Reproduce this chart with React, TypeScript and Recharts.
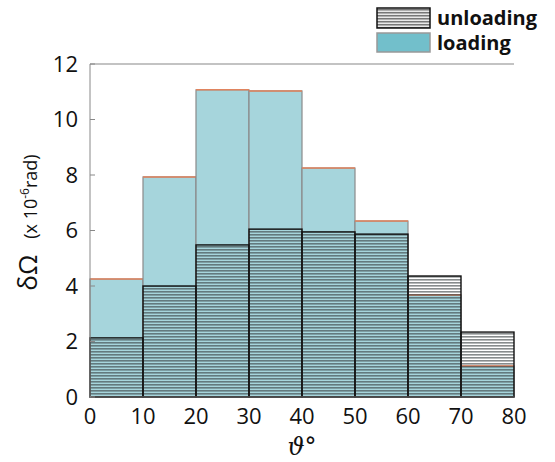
import React, { useEffect } from "react";
import { BarChart, Bar, XAxis, YAxis, ReferenceLine } from "recharts";

const bins = ["0-10", "10-20", "20-30", "30-40", "40-50", "50-60", "60-70", "70-80"];
const loading = [4.25, 7.93, 11.07, 11.03, 8.25, 6.34, 3.68, 1.12];
const unloading = [2.13, 4.0, 5.48, 6.05, 5.95, 5.87, 4.36, 2.34];
const xTicks = [0, 10, 20, 30, 40, 50, 60, 70, 80];
const yTicks = [0, 2, 4, 6, 8, 10, 12];

const data = bins.map((bin, i) => ({ bin, loading: loading[i], unloading: unloading[i] }));

const FONT = "'Open Sans', 'Noto Sans', sans-serif";
const BLUE = "#a6d5dc";
const LEGEND_BLUE = "#72bfcb";

function LoadingShape(props: any) {
  const { x, y, width, height } = props;
  return (
    <g>
      <rect x={x} y={y} width={width} height={height} fill={BLUE} stroke="#8a8a8a" strokeWidth={1.2} />
      <line x1={x} x2={x + width} y1={y} y2={y} stroke="#e0845f" strokeWidth={1.5} />
    </g>
  );
}

function UnloadingShape(props: any) {
  const { x, y, width, height } = props;
  return <rect x={x} y={y} width={width} height={height} fill="url(#hatch)" stroke="#111" strokeWidth={1.4} />;
}

function XTick(props: any) {
  const { x, y, payload, index } = props;
  const half = payload?.offset ?? 26.5;
  return (
    <g>
      <text x={x - half} y={y + 19} textAnchor="middle" fontSize={22} fontFamily={FONT} fill="#111">
        {xTicks[index]}
      </text>
      {index === bins.length - 1 && (
        <text x={x + half} y={y + 19} textAnchor="middle" fontSize={22} fontFamily={FONT} fill="#111">
          {xTicks[index + 1]}
        </text>
      )}
    </g>
  );
}

function YLabel(props: any) {
  const vb = props.viewBox || {};
  const cx = 37;
  const cy = (vb.y ?? 64) + (vb.height ?? 333) / 2 - 8;
  return (
    <text
      transform={`translate(${cx},${cy}) rotate(-90)`}
      textAnchor="middle"
      style={{ fontFamily: FONT, fontSize: 18 }}
      fill="#111"
    >
      <tspan style={{ fontSize: 26 }}>δΩ</tspan>
      <tspan style={{ fontSize: 18 }} dx={16}>(x 10</tspan>
      <tspan style={{ fontSize: 12 }} dy={-8}>-6</tspan>
      <tspan style={{ fontSize: 18 }} dy={8}>rad)</tspan>
    </text>
  );
}

export default function App() {
  useEffect(() => {
    document.body.style.margin = "0";
  }, []);
  return (
    <div style={{ position: "relative", width: 555, height: 462, background: "#fff" }}>
      <BarChart
        width={555}
        height={462}
        data={data}
        margin={{ top: 64, right: 41, bottom: 0, left: 30 }}
        barCategoryGap={0}
        barGap="-100%"
      >
        <defs>
          <pattern id="hatch" width={8} height={3} patternUnits="userSpaceOnUse">
            <rect x={0} y={0} width={8} height={1.6} fill="rgba(55,62,64,0.6)" />
          </pattern>
        </defs>
        <XAxis
          dataKey="bin"
          xAxisId="b"
          interval={0}
          tick={<XTick />}
          tickLine={false}
          axisLine={{ stroke: "#555", strokeWidth: 1.5 }}
          height={65}
        />
        <YAxis
          yAxisId="l"
          domain={[0, 12]}
          ticks={yTicks}
          width={60}
          tickSize={-5}
          tickMargin={17}
          tickLine={{ stroke: "#888" }}
          axisLine={{ stroke: "#888" }}
          tick={{ fontSize: 22, fontFamily: FONT, fill: "#111" }}
          label={<YLabel />}
        />
        <YAxis
          yAxisId="r"
          orientation="right"
          domain={[0, 12]}
          ticks={yTicks}
          width={0}
          tickSize={-5}
          tickFormatter={() => ""}
          tickLine={{ stroke: "#888" }}
          axisLine={{ stroke: "#888" }}
        />
        <ReferenceLine y={12} xAxisId="b" yAxisId="l" stroke="#888" strokeWidth={1.2} />
        <Bar dataKey="loading" xAxisId="b" yAxisId="l" shape={<LoadingShape />} isAnimationActive={false} />
        <Bar dataKey="unloading" xAxisId="b" yAxisId="l" shape={<UnloadingShape />} isAnimationActive={false} />
      </BarChart>
      <svg width={555} height={462} style={{ position: "absolute", left: 0, top: 0, pointerEvents: "none" }}>
        <defs>
          <pattern id="hatch2" width={8} height={3} patternUnits="userSpaceOnUse">
            <rect x={0} y={0} width={8} height={3} fill="#e8e8e8" />
            <rect x={0} y={0} width={8} height={1.5} fill="#777" />
          </pattern>
        </defs>
        <rect x={377} y={8} width={53} height={20} fill="url(#hatch2)" stroke="#111" strokeWidth={1.5} />
        <rect x={377} y={33} width={53} height={19} fill={LEGEND_BLUE} stroke="#999" strokeWidth={1.5} />
        <text x={437} y={25} fontSize={20} fontWeight={700} fontFamily={FONT} fill="#111">unloading</text>
        <text x={437} y={50} fontSize={20} fontWeight={700} fontFamily={FONT} fill="#111">loading</text>
        <text x={302} y={455} textAnchor="middle" fontSize={24} fontStyle="italic" fontFamily="'DejaVu Serif', serif" fill="#111">ϑ°</text>
      </svg>
    </div>
  );
}
